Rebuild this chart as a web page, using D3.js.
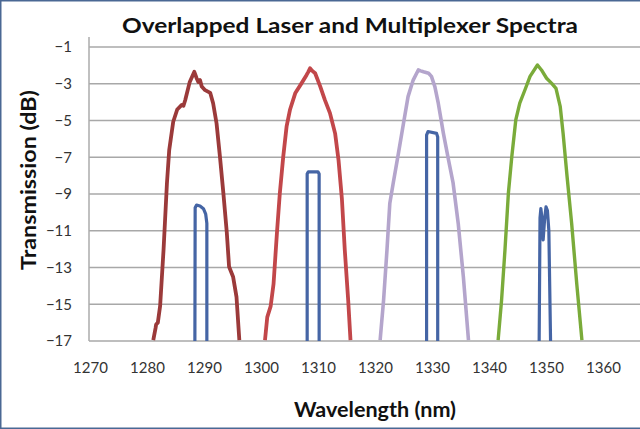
<!DOCTYPE html>
<html><head><meta charset="utf-8">
<script src="https://cdn.jsdelivr.net/npm/d3@7"></script>
<style>
html,body{margin:0;padding:0;background:#fff;}
svg{display:block;font-family:Lato,"Open Sans",sans-serif;}
</style></head>
<body><svg id="c" width="640" height="429"></svg>
<script>
// ---- data ----
const xTicks = [1270,1280,1290,1300,1310,1320,1330,1340,1350,1360];
const yTicks = [-1,-3,-5,-7,-9,-11,-13,-15,-17];

const mux1290X = [1281.1,1281.5,1281.6,1281.9,1282.3,1282.9,1283.5,1283.9,1284.6,1285.3,1286.1,1286.4,1286.7,1287.5,1288.3,1288.7,1289.0,1289.3,1289.6,1290.2,1291.1,1291.6,1292.2,1292.8,1293.4,1294.0,1294.4,1295.1,1295.7,1296.2];
const mux1290Y = [-16.95,-16.3,-16.1,-16.0,-15.1,-12.05,-8.4,-6.6,-5.07,-4.4,-4.15,-4.2,-3.9,-2.9,-2.35,-2.7,-2.9,-2.8,-3.15,-3.35,-3.5,-4.06,-5.15,-6.97,-8.96,-11.1,-12.96,-13.5,-14.6,-16.95];

const mux1310X = [1300.7,1301.1,1301.7,1302.2,1302.8,1303.3,1303.9,1304.5,1305.1,1306.0,1307.1,1308.0,1308.3,1308.6,1309.0,1309.5,1310.4,1311.2,1312.1,1313.0,1313.6,1314.2,1314.7,1315.3,1315.7];
const mux1310Y = [-16.95,-15.7,-15.1,-13.9,-11.1,-8.96,-6.97,-5.3,-4.4,-3.52,-2.98,-2.52,-2.35,-2.16,-2.3,-2.43,-3.16,-3.88,-4.6,-5.7,-7.15,-9.3,-12.05,-14.8,-16.95];

const mux1330X = [1320.9,1321.5,1322.1,1322.6,1323.2,1324.1,1325.0,1325.8,1326.7,1327.6,1328.0,1328.5,1329.4,1329.9,1330.5,1331.1,1332.0,1332.9,1333.7,1334.6,1335.5,1336.4];
const mux1330Y = [-16.95,-14.8,-12.05,-9.5,-8.4,-6.8,-5.15,-3.7,-2.8,-2.25,-2.3,-2.35,-2.43,-2.6,-3.16,-4.06,-5.7,-7.15,-8.4,-10.6,-13.5,-16.95];

const mux1350X = [1341.6,1342.2,1342.8,1343.4,1344.0,1344.7,1345.4,1346.3,1347.2,1348.5,1349.2,1350.1,1351.0,1351.75,1352.5,1353.0,1353.7,1354.5,1355.4,1356.3];
const mux1350Y = [-16.95,-14.8,-12.05,-8.96,-6.97,-4.97,-4.06,-3.34,-2.6,-1.98,-2.25,-2.7,-2.98,-3.25,-4.25,-5.7,-8.06,-10.6,-13.9,-16.95];

const laser1290X = [1288.4,1288.45,1288.7,1289.3,1289.9,1290.3,1290.5,1290.5];
const laser1290Y = [-17,-9.75,-9.6,-9.65,-9.8,-10.1,-10.6,-17];
const laser1310X = [1308.1,1308.1,1308.3,1310.0,1310.2,1310.2];
const laser1310Y = [-17,-7.9,-7.8,-7.8,-7.9,-17];
const laser1330X = [1329.05,1329.05,1329.3,1330.8,1331.0,1331.0];
const laser1330Y = [-17,-5.8,-5.6,-5.7,-5.9,-17];
const laser1350X = [1348.8,1348.95,1349.1,1349.25,1349.5,1349.75,1350.0,1350.25,1350.5,1350.8];
const laser1350Y = [-17,-10.3,-9.8,-10.2,-11.5,-10.4,-9.7,-9.9,-11.0,-17];

// ---- chart ----
const svg = d3.select('#c');
const L = 89, R = 640, T = 47, B = 341;
const x = d3.scaleLinear().domain([1270,1360]).range([90,603]);
const y = d3.scaleLinear().domain([-17,-1]).range([B,T]);

// border
svg.append('rect').attr('x',0.75).attr('y',0.75).attr('width',645).attr('height',427.5)
  .attr('fill','#fff').attr('stroke','#4a6894').attr('stroke-width',1.5);

// gridlines
svg.append('g').selectAll('line').data(yTicks).join('line')
  .attr('x1',L).attr('x2',R).attr('y1',d=>y(d)).attr('y2',d=>y(d))
  .attr('stroke','#a8a8a8').attr('stroke-width',1.6);

// y axis line
svg.append('line').attr('x1',L).attr('x2',L).attr('y1',T-10).attr('y2',B)
  .attr('stroke','#ababab').attr('stroke-width',1.5);

// axes labels via d3 axis
const yAxis = d3.axisLeft(y).tickValues(yTicks).tickSize(0).tickPadding(0).tickFormat(d3.format('d'));
const gy = svg.append('g').attr('transform',`translate(${L-17},0)`).call(yAxis);
gy.select('.domain').remove();
gy.selectAll('text').attr('font-size',15).attr('fill','#333').attr('font-family','Lato, sans-serif');

const xAxis = d3.axisBottom(x).tickValues(xTicks).tickSize(0).tickPadding(0).tickFormat(d3.format('d'));
const gx = svg.append('g').attr('transform',`translate(0,${B+21})`).call(xAxis);
gx.select('.domain').remove();
gx.selectAll('text').attr('font-size',15).attr('fill','#333').attr('font-family','Lato, sans-serif');

// series
const line = d3.line().x(d=>x(d[0])).y(d=>y(d[1]));
const zip = (a,b)=>a.map((v,i)=>[v,b[i]]);
const series = [
  {xs:mux1290X, ys:mux1290Y, c:'#9b3a3a', w:3.8},
  {xs:mux1310X, ys:mux1310Y, c:'#c2474a', w:3.8},
  {xs:mux1330X, ys:mux1330Y, c:'#b4a5cc', w:3.6},
  {xs:mux1350X, ys:mux1350Y, c:'#7aab3a', w:3.4},
  {xs:laser1290X, ys:laser1290Y, c:'#4565a5', w:3.2},
  {xs:laser1310X, ys:laser1310Y, c:'#4565a5', w:3.2},
  {xs:laser1330X, ys:laser1330Y, c:'#4565a5', w:3.2},
  {xs:laser1350X, ys:laser1350Y, c:'#4565a5', w:3.2},
];
svg.append('clipPath').attr('id','clip').append('rect')
  .attr('x',L).attr('y',0).attr('width',R-L).attr('height',B+0.5);
svg.append('g').attr('clip-path','url(#clip)').selectAll('path').data(series).join('path')
  .attr('d',s=>line(zip(s.xs,s.ys)))
  .attr('fill','none').attr('stroke',s=>s.c).attr('stroke-width',s=>s.w)
  .attr('stroke-linejoin','round');

// titles
svg.append('text').attr('x',350).attr('y',33).attr('text-anchor','middle')
  .attr('font-size',21).attr('font-weight','bold').attr('fill','#111')
  .attr('textLength',456).attr('lengthAdjust','spacingAndGlyphs')
  .text('Overlapped Laser and Multiplexer Spectra');
svg.append('text').attr('x',375).attr('y',417).attr('text-anchor','middle')
  .attr('font-size',20).attr('font-weight','bold').attr('fill','#111')
  .attr('textLength',162).attr('lengthAdjust','spacingAndGlyphs')
  .text('Wavelength (nm)');
svg.append('text').attr('transform','translate(36,180) rotate(-90)').attr('text-anchor','middle')
  .attr('font-size',20).attr('font-weight','bold').attr('fill','#111')
  .attr('textLength',180).attr('lengthAdjust','spacingAndGlyphs')
  .text('Transmission (dB)');
</script></body></html>
